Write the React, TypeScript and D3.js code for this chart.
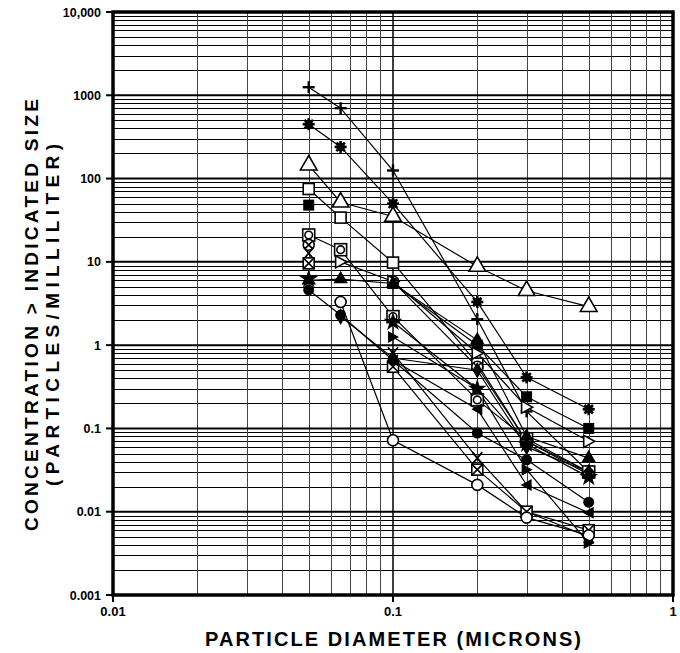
import React from 'react';
import * as d3 from 'd3';

// particle diameters (microns) where the counts were taken
const diameters = [0.05, 0.065, 0.1, 0.2, 0.3, 0.5];

// concentration > indicated size (particles / mL), one array per sample
const plusSeries = [1250, 700, 125, 2.05, 0.16, 0.03];
const asteriskSeries = [450, 240, 50, 3.3, 0.41, 0.17];
const openTriangleSeries = [145, 52, 35, 8.8, 4.5, 2.9];
const openSquareSeries = [75, 34, 9.8, 0.6, 0.07, 0.03];
const filledSquareSeries = [48, null, 5.5, 1.0, 0.24, 0.1];
const squareCircleSeries = [21, 14, 2.2, 0.22, 0.075, 0.03];
const circleXSeries = [16, null, 5.8, 0.55, 0.07, 0.028];
const crossSeries = [12.7, null, 0.8, 0.044, 0.01, 0.005];
const squareXSeries = [9.6, null, 0.55, 0.032, 0.01, 0.006];
const openRightSeries = [null, 10, 5.8, 0.8, 0.18, 0.07];
const filledStarSeries = [6.2, null, 1.9, 0.3, 0.065, 0.026];
const filledTriangleSeries = [6, 6.2, 5.5, 1.15, 0.08, 0.044];
const openCircleSeries = [null, 3.3, 0.072, 0.021, 0.0085, 0.0052];
const filledCircleSeries = [4.6, 2.3, 0.66, 0.088, 0.042, 0.013];
const filledLeftSeries = [null, null, 0.66, 0.17, 0.021, 0.0097];
const filledRightSeries = [null, null, 1.25, 0.3, 0.032, 0.0042];
const filledDiamondSeries = [null, 2.2, 0.7, 0.5, 0.06, 0.03];

const series: { marker: string; values: (number | null)[] }[] = [
  { marker: 'plus', values: plusSeries },
  { marker: 'asterisk', values: asteriskSeries },
  { marker: 'openTriangle', values: openTriangleSeries },
  { marker: 'openSquare', values: openSquareSeries },
  { marker: 'filledSquare', values: filledSquareSeries },
  { marker: 'squareCircle', values: squareCircleSeries },
  { marker: 'circleX', values: circleXSeries },
  { marker: 'cross', values: crossSeries },
  { marker: 'squareX', values: squareXSeries },
  { marker: 'openRight', values: openRightSeries },
  { marker: 'filledStar', values: filledStarSeries },
  { marker: 'filledTriangle', values: filledTriangleSeries },
  { marker: 'openCircle', values: openCircleSeries },
  { marker: 'filledCircle', values: filledCircleSeries },
  { marker: 'filledLeft', values: filledLeftSeries },
  { marker: 'filledRight', values: filledRightSeries },
  { marker: 'filledDiamond', values: filledDiamondSeries },
];

const yTickValues = [0.001, 0.01, 0.1, 1, 10, 100, 1000, 10000];
const yTickLabels = ['0.001', '0.01', '0.1', '1', '10', '100', '1000', '10,000'];
const xTickValues = [0.01, 0.1, 1];
const xTickLabels = ['0.01', '0.1', '1'];

const W = 680;
const H = 653;
const left = 113;
const right = 673;
const top = 12;
const bottom = 595;

const font = '"Liberation Sans", Arial, sans-serif';

const Marker: React.FC<{ type: string; x: number; y: number }> = ({ type, x, y }) => {
  const r = 6;
  const sw = 1.6;
  const t = `translate(${x},${y})`;
  switch (type) {
    case 'plus':
      return (
        <g transform={t} stroke="#000" strokeWidth={2.4}>
          <line x1={-r} x2={r} y1={0} y2={0} />
          <line x1={0} x2={0} y1={-r} y2={r} />
        </g>
      );
    case 'asterisk':
      return (
        <g transform={t} stroke="#000" strokeWidth={2.6}>
          {[0, 45, 90, 135].map((a) => (
            <line key={a} x1={-r} x2={r} y1={0} y2={0} transform={`rotate(${a})`} />
          ))}
          <circle r={3} fill="#000" />
        </g>
      );
    case 'openTriangle':
      return <path transform={t} d={d3.symbol(d3.symbolTriangle, 120)()!} fill="#fff" stroke="#000" strokeWidth={sw} />;
    case 'filledTriangle':
      return <path transform={t} d={d3.symbol(d3.symbolTriangle, 90)()!} fill="#000" />;
    case 'openSquare':
      return <rect transform={t} x={-5.5} y={-5.5} width={11} height={11} fill="#fff" stroke="#000" strokeWidth={sw} />;
    case 'filledSquare':
      return <rect transform={t} x={-5.5} y={-5.5} width={11} height={11} fill="#000" />;
    case 'squareCircle':
      return (
        <g transform={t} fill="none" stroke="#000" strokeWidth={sw}>
          <rect x={-6} y={-6} width={12} height={12} fill="#fff" />
          <circle r={3.8} />
        </g>
      );
    case 'squareX':
      return (
        <g transform={t} fill="none" stroke="#000" strokeWidth={sw}>
          <rect x={-5.5} y={-5.5} width={11} height={11} fill="#fff" />
          <path d="M-5.5,-5.5L5.5,5.5M5.5,-5.5L-5.5,5.5" />
        </g>
      );
    case 'circleX':
      return (
        <g transform={t} fill="#fff" stroke="#000" strokeWidth={sw}>
          <circle r={5.5} />
          <path d="M-3.5,-3.5L3.5,3.5M3.5,-3.5L-3.5,3.5" />
        </g>
      );
    case 'cross':
      return (
        <g transform={t} stroke="#000" strokeWidth={1.8}>
          <path d="M-5,-6L5,6M5,-6L-5,6" />
        </g>
      );
    case 'openRight':
      return <path transform={t} d="M-5,-6L6,0L-5,6Z" fill="#fff" stroke="#000" strokeWidth={sw} />;
    case 'filledRight':
      return <path transform={t} d="M-5,-6L6,0L-5,6Z" fill="#000" />;
    case 'filledLeft':
      return <path transform={t} d="M5,-6L-6,0L5,6Z" fill="#000" />;
    case 'filledStar':
      return <path transform={t} d={d3.symbol(d3.symbolStar, 110)()!} fill="#000" />;
    case 'openCircle':
      return <circle transform={t} r={5.5} fill="#fff" stroke="#000" strokeWidth={sw} />;
    case 'filledCircle':
      return <circle transform={t} r={5.5} fill="#000" />;
    case 'filledDiamond':
      return <path transform={t} d={d3.symbol(d3.symbolDiamond, 80)()!} fill="#000" />;
    default:
      return null;
  }
};

const App: React.FC = () => {
  const x = d3.scaleLog().domain([0.01, 1]).range([left, right]);
  const y = d3.scaleLog().domain([0.001, 10000]).range([bottom, top]);

  // minor grid values 2..9 within each decade
  const xMinor: number[] = [];
  [0.01, 0.1].forEach((d) => {
    for (let k = 2; k <= 9; k++) xMinor.push(d * k);
  });
  const yMinor: number[] = [];
  [0.001, 0.01, 0.1, 1, 10, 100, 1000].forEach((d) => {
    for (let k = 2; k <= 9; k++) yMinor.push(d * k);
  });

  const line = d3
    .line<{ d: number; v: number | null }>()
    .defined((p) => p.v !== null)
    .x((p) => x(p.d))
    .y((p) => y(p.v as number));

  return (
    <svg
      width={W}
      height={H}
      style={{ position: 'absolute', left: 0, top: 0, background: '#fff' }}
      fontFamily={font}
    >
      <rect width={W} height={H} fill="#fff" />

      {/* minor grid */}
      <g stroke="#000" strokeWidth={1} shapeRendering="crispEdges">
        {yMinor.map((v) => (
          <line key={'ym' + v} x1={left} x2={right} y1={Math.round(y(v))} y2={Math.round(y(v))} />
        ))}
      </g>
      <g stroke="#444" strokeWidth={1} shapeRendering="crispEdges">
        {xMinor.map((v) => (
          <line key={'xm' + v} x1={Math.round(x(v))} x2={Math.round(x(v))} y1={top} y2={bottom} />
        ))}
      </g>
      {/* decade grid */}
      <g stroke="#000" strokeWidth={2}>
        {yTickValues.map((v) => (
          <line key={'yd' + v} x1={left} x2={right} y1={y(v)} y2={y(v)} />
        ))}
        <line x1={x(0.1)} x2={x(0.1)} y1={top} y2={bottom} strokeWidth={1.5} />
      </g>

      {/* frame */}
      <rect x={left} y={top} width={right - left} height={bottom - top} fill="none" stroke="#000" strokeWidth={3.5} />

      {/* ticks */}
      <g stroke="#000" strokeWidth={2}>
        {yTickValues.map((v) => (
          <line key={'yt' + v} x1={left - 7} x2={left} y1={y(v)} y2={y(v)} />
        ))}
        {xTickValues.map((v) => (
          <line key={'xt' + v} x1={x(v)} x2={x(v)} y1={bottom} y2={bottom + 7} />
        ))}
      </g>
      <g fontSize={12.5} fontWeight="bold" textAnchor="end">
        {yTickValues.map((v, i) => (
          <text key={'yl' + v} x={left - 12} y={y(v) + 4.5}>
            {yTickLabels[i]}
          </text>
        ))}
      </g>
      <g fontSize={13} fontWeight="bold" textAnchor="middle">
        {xTickValues.map((v, i) => (
          <text key={'xl' + v} x={x(v)} y={bottom + 21}>
            {xTickLabels[i]}
          </text>
        ))}
      </g>

      {/* data lines */}
      <g fill="none" stroke="#000" strokeWidth={1.2}>
        {series.map((s, i) => (
          <path key={'l' + i} d={line(diameters.map((d, j) => ({ d, v: s.values[j] })))!} />
        ))}
      </g>
      {/* markers */}
      {series.map((s, i) => (
        <g key={'m' + i}>
          {diameters.map((d, j) =>
            s.values[j] === null ? null : (
              <Marker key={j} type={s.marker} x={x(d)} y={y(s.values[j] as number)} />
            )
          )}
        </g>
      ))}

      {/* axis titles */}
      <text
        x={W / 2 + 53}
        y={646}
        fontSize={20}
        fontWeight="bold"
        textAnchor="middle"
        textLength={376}
        lengthAdjust="spacing"
      >
        PARTICLE DIAMETER (MICRONS)
      </text>
      <g transform="translate(38,315) rotate(-90)" fontSize={19} fontWeight="bold" textAnchor="middle">
        <text x={0} y={0} textLength={432} lengthAdjust="spacing">
          CONCENTRATION &gt; INDICATED SIZE
        </text>
        <text x={0} y={21} textLength={342} lengthAdjust="spacing">
          (PARTICLES/MILLILITER)
        </text>
      </g>
    </svg>
  );
};

export default App;
